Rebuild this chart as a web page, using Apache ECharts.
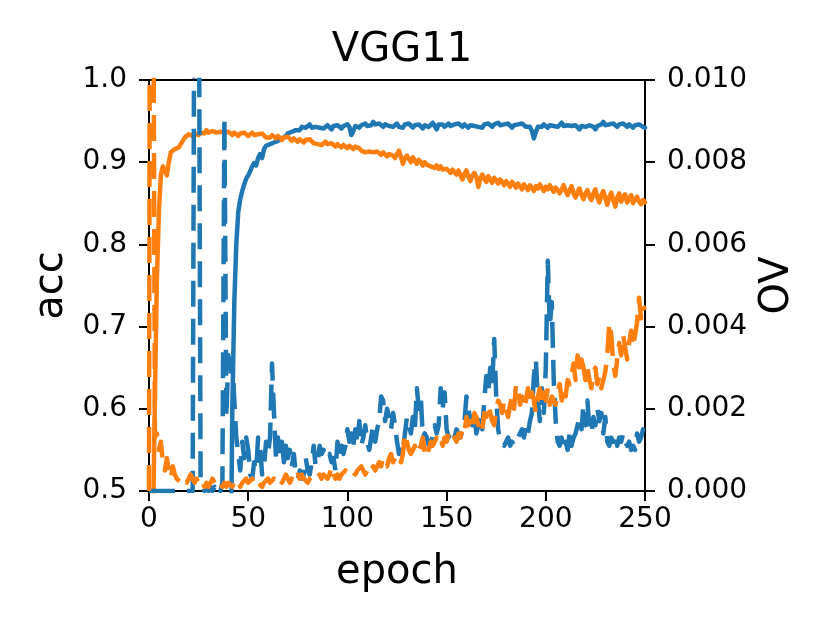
<!DOCTYPE html>
<html>
<head>
<meta charset="utf-8">
<script src="https://cdn.jsdelivr.net/npm/echarts@6/dist/echarts.min.js"></script>
<style>
html,body{margin:0;padding:0;background:#fff;}
#chart{width:830px;height:623px;}
</style>
</head>
<body>
<div id="chart"></div>
<script>
// ---- data ----
const title = 'VGG11';
const xTicks = [0, 50, 100, 150, 200, 250];
const accTicks = [0.5, 0.6, 0.7, 0.8, 0.9, 1.0];
const ovTicks = [0.000, 0.002, 0.004, 0.006, 0.008, 0.010];

// accuracy, blue (solid, left axis), epochs 0..250
const accBlue = [
0.1,0.1,0.1,0.1,0.1,0.1,0.1,0.1,0.1,0.1,
0.1,0.1,0.1,0.1,0.1,0.1,0.1,0.1,0.1,0.1,
0.1,0.1,0.1,0.1,0.1,0.1,0.1,0.1,0.1,0.1,
0.1,0.1,0.1,0.1,0.1,0.1,0.1,0.1,0.1,0.1,
0.1,0.1,0.6,0.73,0.8,0.84,0.855,0.865,0.873,0.88,
0.884,0.889,0.895,0.899,0.896,0.905,0.91,0.905,0.916,0.92,
0.921,0.922,0.921,0.924,0.923,0.926,0.925,0.929,0.928,0.932,
0.935,0.934,0.937,0.936,0.939,0.941,0.939,0.943,0.945,0.942,
0.944,0.946,0.942,0.94,0.943,0.945,0.942,0.944,0.941,0.943,
0.945,0.943,0.94,0.944,0.942,0.945,0.943,0.941,0.944,0.942,
0.946,0.943,0.933,0.938,0.944,0.946,0.942,0.945,0.943,0.947,
0.944,0.942,0.945,0.949,0.946,0.944,0.947,0.945,0.943,0.946,
0.948,0.944,0.946,0.943,0.945,0.947,0.943,0.945,0.942,0.946,
0.944,0.947,0.945,0.942,0.945,0.943,0.946,0.944,0.941,0.945,
0.947,0.943,0.945,0.948,0.944,0.94,0.946,0.944,0.946,0.943,
0.945,0.947,0.944,0.942,0.946,0.944,0.947,0.945,0.943,0.946,
0.944,0.942,0.945,0.947,0.944,0.946,0.943,0.945,0.942,0.946,
0.944,0.947,0.945,0.943,0.946,0.944,0.948,0.945,0.943,0.946,
0.944,0.947,0.945,0.942,0.945,0.943,0.946,0.944,0.947,0.945,
0.943,0.945,0.943,0.938,0.929,0.937,0.943,0.945,0.943,0.946,
0.944,0.942,0.945,0.947,0.944,0.946,0.943,0.945,0.948,0.944,
0.942,0.945,0.947,0.944,0.942,0.945,0.943,0.94,0.944,0.946,
0.943,0.941,0.945,0.947,0.943,0.94,0.944,0.942,0.946,0.949,
0.945,0.943,0.946,0.944,0.947,0.945,0.943,0.946,0.944,0.947,
0.945,0.943,0.946,0.944,0.942,0.945,0.943,0.946,0.944,0.943,
0.942
];

// accuracy, orange (solid, left axis), epochs 0..250
const accOrange = [
0.1,0.1,0.45,0.62,0.76,0.84,0.885,0.895,0.893,0.884,
0.9,0.912,0.91,0.916,0.914,0.918,0.922,0.926,0.93,0.928,
0.934,0.936,0.932,0.935,0.937,0.933,0.936,0.938,0.935,0.939,
0.936,0.934,0.938,0.94,0.936,0.935,0.937,0.939,0.936,0.934,
0.937,0.935,0.933,0.936,0.934,0.932,0.935,0.933,0.936,0.934,
0.932,0.934,0.936,0.933,0.931,0.934,0.932,0.935,0.933,0.93,
0.932,0.93,0.933,0.931,0.929,0.932,0.93,0.927,0.93,0.928,
0.931,0.929,0.926,0.929,0.927,0.925,0.928,0.926,0.924,0.927,
0.925,0.928,0.926,0.923,0.925,0.922,0.924,0.921,0.923,0.925,
0.922,0.92,0.923,0.921,0.919,0.922,0.92,0.918,0.921,0.919,
0.917,0.92,0.918,0.916,0.919,0.921,0.917,0.914,0.916,0.912,
0.91,0.913,0.915,0.912,0.91,0.913,0.911,0.909,0.912,0.91,
0.907,0.91,0.912,0.908,0.905,0.91,0.914,0.906,0.898,0.905,
0.908,0.904,0.9,0.906,0.902,0.898,0.903,0.9,0.896,0.9,
0.897,0.899,0.895,0.897,0.893,0.896,0.892,0.895,0.891,0.889,
0.892,0.89,0.887,0.891,0.888,0.885,0.89,0.884,0.879,0.886,
0.89,0.882,0.877,0.884,0.887,0.882,0.87,0.88,0.885,0.88,
0.876,0.883,0.879,0.875,0.881,0.878,0.874,0.879,0.876,0.872,
0.877,0.874,0.87,0.876,0.873,0.869,0.874,0.871,0.867,0.873,
0.87,0.866,0.872,0.869,0.865,0.871,0.868,0.873,0.869,0.865,
0.87,0.867,0.872,0.868,0.864,0.869,0.866,0.862,0.867,0.872,
0.865,0.86,0.866,0.871,0.862,0.857,0.864,0.868,0.86,0.855,
0.862,0.866,0.858,0.854,0.862,0.867,0.857,0.851,0.86,0.865,
0.856,0.848,0.858,0.863,0.854,0.846,0.857,0.862,0.852,0.858,
0.861,0.851,0.856,0.86,0.85,0.855,0.858,0.852,0.849,0.854,
0.851
];

// OV, blue (dashed, right axis), epochs 0..250
const ovBlue = [
0,0,0,0,0,0,0,0,0,0,
0,0,0,0,0,0,0,0,0,0,
0,0,0,0,0.03,0.03,0.0002,0.0001,0,0.0001,
0,0.0001,0,0.0001,0,0.0001,0,0.0002,0.0091,0.0018,
0.0033,0.0028,0.0032,0.0022,0.0013,0.0009,0.0005,0.0012,0.0008,0.0013,
0.001,0.0004,0.0003,0.0007,0.0005,0.0013,0.0011,0.0004,0.0006,0.0012,
0.0009,0.0013,0.0031,0.0019,0.0008,0.0013,0.0009,0.0012,0.0007,0.0011,
0.0008,0.001,0.0006,0.0009,0.0004,0.0003,0.0005,0.0003,0.0004,0.0008,
0.0005,0.0004,0.0007,0.0011,0.0006,0.0007,0.0011,0.0009,0.001,0.0008,
0.0008,0.0009,0.0007,0.0008,0.0005,0.0012,0.0008,0.0011,0.0009,0.0011,
0.0015,0.0012,0.0014,0.0011,0.0015,0.0012,0.0017,0.0011,0.0013,0.0016,
0.0012,0.001,0.0013,0.0016,0.0012,0.0015,0.0017,0.0023,0.0022,0.0017,
0.002,0.0018,0.0015,0.0019,0.0016,0.0012,0.0009,0.0011,0.001,0.0014,
0.0018,0.0016,0.0014,0.0018,0.0015,0.0025,0.002,0.0023,0.0013,0.0014,
0.0013,0.0011,0.0012,0.0013,0.0016,0.0014,0.0016,0.0025,0.002,0.0024,
0.0015,0.0013,0.0015,0.0014,0.0013,0.0015,0.0014,0.0013,0.0015,0.0017,
0.0023,0.002,0.0017,0.0016,0.0019,0.0014,0.0016,0.0018,0.0015,0.0022,
0.0028,0.0024,0.003,0.0026,0.0037,0.0023,0.0015,0.0012,0.0012,0.0011,
0.0011,0.0013,0.0011,0.0012,0.0011,0.0012,0.0013,0.0014,0.0015,0.0013,
0.0016,0.0014,0.0017,0.0019,0.0028,0.0032,0.0022,0.0017,0.0025,0.0019,
0.003,0.0056,0.004,0.0046,0.0027,0.0017,0.0012,0.0011,0.0013,0.001,
0.0012,0.001,0.0014,0.0011,0.0013,0.0014,0.0016,0.0018,0.0015,0.0021,
0.0016,0.0022,0.0015,0.0014,0.0018,0.0016,0.002,0.0017,0.0019,0.0014,
0.0018,0.0012,0.0011,0.0013,0.0012,0.0014,0.0011,0.0013,0.0012,0.0014,
0.0012,0.0011,0.0012,0.001,0.0011,0.001,0.0014,0.0012,0.0013,0.0015,
0.0014
];

// OV, orange (dashed, right axis), epochs 0..250
const ovOrange = [
0,0.03,0.03,0.0013,0.0014,0.001,0.0012,0.0007,0.0005,0.0008,
0.0005,0.0003,0.0006,0.0004,0.0003,0.0003,0.0002,0.0002,0.0003,0.0002,
0.0003,0.0004,0.0003,0.0002,0.0003,0.0002,0.0001,0.0002,0.0001,0.0002,
0.0001,0.0002,0.0003,0.0002,0.0003,0.0002,0.0002,0.0001,0.0002,0.0001,
0.0002,0.0002,0.0001,0.0002,0.0003,0.0002,0.0001,0.0002,0.0002,0.0003,
0.0002,0.0002,0.0003,0.0002,0.0001,0.0002,0.0002,0.0001,0.0002,0.0002,
0.0003,0.0002,0.0002,0.0003,0.0002,0.0003,0.0003,0.0002,0.0003,0.0004,
0.0003,0.0002,0.0003,0.0002,0.0003,0.0004,0.0003,0.0004,0.0003,0.0003,
0.0002,0.0003,0.0003,0.0004,0.0003,0.0003,0.0004,0.0003,0.0004,0.0004,
0.0003,0.0004,0.0006,0.0004,0.0003,0.0004,0.0003,0.0004,0.0004,0.0005,
0.0004,0.0004,0.0005,0.0005,0.0004,0.0005,0.0005,0.0006,0.0005,0.0004,
0.0005,0.0006,0.0005,0.0006,0.0005,0.0006,0.0007,0.0006,0.0008,0.0007,
0.0006,0.0008,0.0009,0.0007,0.0008,0.0009,0.0008,0.0007,0.0009,0.0014,
0.0012,0.001,0.0009,0.001,0.0011,0.0009,0.001,0.0011,0.0013,0.0009,
0.0011,0.001,0.0012,0.0011,0.0012,0.0013,0.0012,0.0013,0.0011,0.0013,
0.0012,0.0014,0.0013,0.0014,0.0013,0.0012,0.0014,0.0013,0.0015,0.0014,
0.0018,0.0016,0.0017,0.0015,0.0019,0.0018,0.0016,0.0017,0.0015,0.0019,
0.0018,0.0021,0.0019,0.0017,0.0016,0.002,0.0022,0.0021,0.0019,0.0022,
0.002,0.0018,0.0021,0.0023,0.002,0.0026,0.0025,0.0021,0.0023,0.002,
0.0022,0.0025,0.0021,0.0024,0.0022,0.0019,0.0023,0.0025,0.0021,0.0024,
0.0022,0.0025,0.0021,0.0023,0.0022,0.0021,0.0024,0.0026,0.0022,0.0025,
0.0023,0.0027,0.0026,0.0028,0.0031,0.0027,0.0033,0.0029,0.0032,0.003,
0.0027,0.003,0.0027,0.0025,0.0029,0.003,0.0026,0.0028,0.0025,0.0027,
0.0029,0.0033,0.0041,0.0038,0.0031,0.0028,0.0032,0.0036,0.0033,0.0038,
0.0035,0.0032,0.0036,0.0039,0.0035,0.0038,0.0041,0.0047,0.0042,0.0045,
0.0044
];

// ---- chart ----
const BLUE = '#1f77b4', ORANGE = '#ff7f0e';
const FONT = 'DejaVu Sans';
const pairs = arr => arr.map((v, i) => [i, v]);

const chart = echarts.init(document.getElementById('chart'), null, {renderer: 'canvas'});
const labelText = {color: '#000', fontSize: 28, fontFamily: FONT};
const axisCommon = {
  axisLine: {show: true, onZero: false, lineStyle: {color: '#000', width: 2}},
  axisTick: {show: true, inside: false, length: 10, lineStyle: {color: '#000', width: 2}},
  axisLabel: labelText,
  splitLine: {show: false},
  nameTextStyle: {color: '#000', fontSize: 40, fontFamily: FONT}
};
const lineCommon = {type: 'line', showSymbol: false, symbol: 'none', clip: true, animation: false};

chart.setOption({
  animation: false,
  backgroundColor: '#fff',
  title: {
    text: title, left: 397, top: 26, textAlign: 'center',
    textStyle: {color: '#000', fontSize: 40, fontWeight: 'normal', fontFamily: FONT}
  },
  grid: {left: 149, right: 185, top: 80, bottom: 132, show: true, borderColor: '#000', borderWidth: 2, backgroundColor: 'transparent'},
  xAxis: Object.assign({}, axisCommon, {
    type: 'value', min: xTicks[0], max: xTicks[xTicks.length - 1], interval: 50,
    name: 'epoch', nameLocation: 'middle', nameGap: 62,
    axisLabel: Object.assign({}, labelText, {margin: 15})
  }),
  yAxis: [
    Object.assign({}, axisCommon, {
      type: 'value', position: 'left', min: accTicks[0], max: accTicks[accTicks.length - 1], interval: 0.1,
      name: 'acc', nameLocation: 'middle', nameGap: 76,
      axisLabel: Object.assign({}, labelText, {margin: 22, formatter: v => v.toFixed(1)})
    }),
    Object.assign({}, axisCommon, {
      type: 'value', position: 'right', min: ovTicks[0], max: ovTicks[ovTicks.length - 1], interval: 0.002,
      name: 'OV', nameLocation: 'middle', nameGap: 112, nameRotate: 90,
      axisLabel: Object.assign({}, labelText, {margin: 22, formatter: v => v.toFixed(3)})
    })
  ],
  series: [
    Object.assign({}, lineCommon, {name: 'acc blue', yAxisIndex: 0, data: pairs(accBlue), z: 2,
      lineStyle: {color: BLUE, width: 4.5, join: 'round', cap: 'round'}}),
    Object.assign({}, lineCommon, {name: 'acc orange', yAxisIndex: 0, data: pairs(accOrange), z: 3,
      lineStyle: {color: ORANGE, width: 4.5, join: 'round', cap: 'round'}}),
    Object.assign({}, lineCommon, {name: 'OV blue', yAxisIndex: 1, data: pairs(ovBlue), z: 4,
      lineStyle: {color: BLUE, width: 4.5, type: [26, 12], cap: 'butt', join: 'round'}}),
    Object.assign({}, lineCommon, {name: 'OV orange', yAxisIndex: 1, data: pairs(ovOrange), z: 5,
      lineStyle: {color: ORANGE, width: 4.5, type: [26, 12], cap: 'butt', join: 'round'}})
  ]
});
</script>
</body>
</html>
